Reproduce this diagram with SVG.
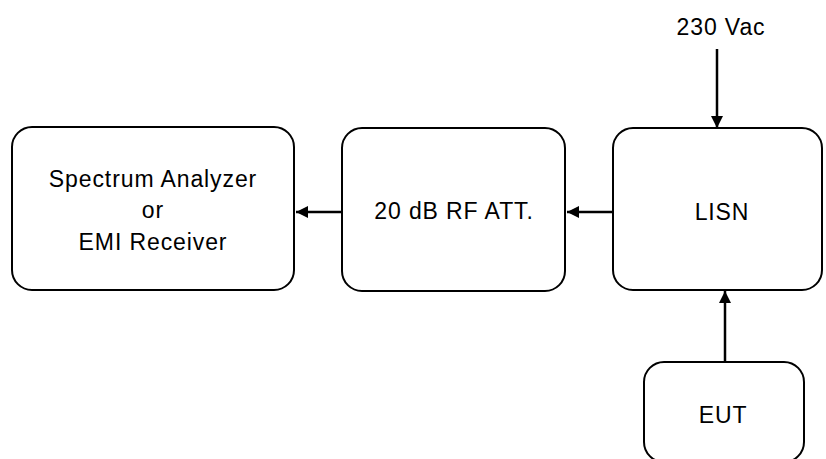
<svg xmlns="http://www.w3.org/2000/svg" width="826" height="459" viewBox="0 0 826 459">
<style>
.box{fill:#fff;stroke:#000;stroke-width:2}
.t{font-family:"Liberation Sans",Arial,sans-serif;font-size:23px;letter-spacing:0.9px;fill:#000;text-anchor:middle}
.c{stroke:#000;stroke-width:2.5;fill:none}
</style>
<defs>
<marker id="ah" viewBox="0 0 12 12" refX="12" refY="6" markerWidth="12" markerHeight="12" markerUnits="userSpaceOnUse" orient="auto">
<path d="M0,0 L12,6 L0,12 z" fill="#000"/>
</marker>
</defs>
<rect width="826" height="459" fill="#fff"/>
<g id="analyzer">
<rect class="box" x="12" y="127" width="282" height="163" rx="20"/>
<text class="t" x="153" y="187">Spectrum Analyzer</text>
<text class="t" x="153" y="218">or</text>
<text class="t" x="153" y="250">EMI Receiver</text>
</g>
<g id="attenuator">
<rect class="box" x="342" y="128" width="223" height="163" rx="20"/>
<text class="t" x="454" y="219">20 dB RF ATT.</text>
</g>
<g id="lisn">
<rect class="box" x="613" y="128" width="209" height="162" rx="20"/>
<text class="t" x="722" y="220">LISN</text>
</g>
<g id="eut">
<rect class="box" x="644" y="362" width="160" height="100" rx="20"/>
<text class="t" x="723" y="423">EUT</text>
</g>
<text class="t" x="721" y="35">230 Vac</text>
<g id="connectors">
<line class="c" x1="342" y1="212" x2="296" y2="212" marker-end="url(#ah)"/>
<line class="c" x1="613" y1="212" x2="567" y2="212" marker-end="url(#ah)"/>
<line class="c" x1="717" y1="49" x2="717" y2="128" marker-end="url(#ah)"/>
<line class="c" x1="725" y1="362" x2="725" y2="291" marker-end="url(#ah)"/>
</g>
</svg>
